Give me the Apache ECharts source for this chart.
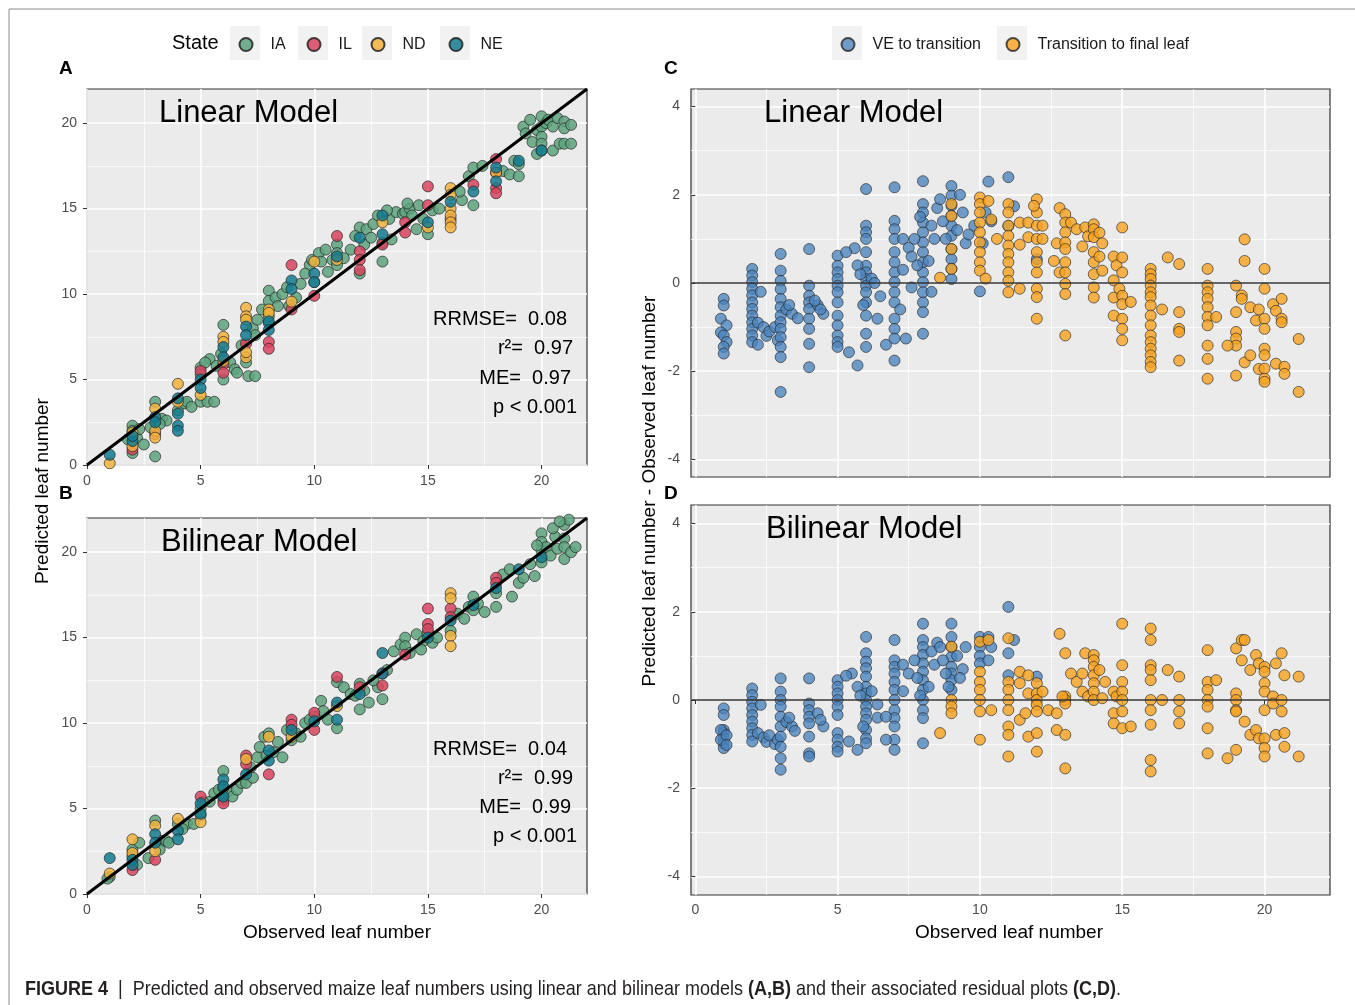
<!DOCTYPE html>
<html>
<head>
<meta charset="utf-8">
<script src="https://cdn.jsdelivr.net/npm/echarts@6/dist/echarts.min.js"></script>
<style>
    html, body { margin: 0; padding: 0; background: #fff; }
    #chart { width: 1355px; height: 1005px; }
</style>
</head>
<body>
<div id="chart"></div>
<script>
// tick labels
var fitTicks = [0, 5, 10, 15, 20];
var residXTicks = [0, 5, 10, 15, 20];
var residYTicks = [-4, -2, 0, 2, 4];

// reference lines
var identityLine = [[0, 0], [22, 22]];
var zeroLine = [[-0.15, 0], [22.3, 0]];

// A: linear model, predicted vs observed, by state
var linearIA = [[1.8, 1.5], [2, 2.3], [2, 2.0], [2, 0.7], [2.2, 1.6], [2.3, 2.1], [2.5, 1.2], [2.8, 2.2],
    [3, 3.7], [3, 0.5], [3.3, 2.7], [3.5, 2.6], [3.2, 2.4], [4, 3.2], [4.3, 3.6], [4.4, 3.7], [4.6, 3.4],
    [5, 5.7], [5, 5.3], [5, 3.7], [5.3, 3.7], [5.6, 3.7], [5.4, 6.2], [5.7, 5.8], [5.9, 6.5], [6, 8.2],
    [6, 5.0], [6.3, 6.0], [6.5, 5.6], [6.6, 5.4], [7.1, 5.2], [7.4, 5.2], [7, 6.0], [7.3, 8.0], [7.4, 7.6],
    [7.5, 8.5], [7.7, 9.1], [8, 8.3], [8, 10.2], [8, 9.6], [8, 8.7], [8.3, 9.8], [8.4, 9.3], [8.6, 10.0],
    [8.8, 10.4], [9.2, 9.8], [9.4, 10.6], [9.8, 11.7], [9.9, 12.0], [10, 10.7], [10.2, 12.4], [10.3, 11.9],
    [10.5, 12.6], [10.8, 12.0], [11, 12.9], [11, 12.4], [11, 11.7], [11.3, 12.1], [11.6, 12.6], [12, 13.9],
    [12, 11.2], [12.3, 13.8], [12.6, 14.1], [12.8, 14.6], [13, 11.9], [13, 13.0], [13.3, 14.4], [13.4, 13.2],
    [13.6, 14.8], [13.9, 14.7], [14, 14.8], [14.2, 15.0], [14.3, 14.6], [14.5, 13.8], [14.6, 15.2], [14.8, 14.4],
    [15, 13.5], [15.2, 14.9], [15.5, 15.0], [16.5, 15.5], [17, 15.2], [16.4, 16.0], [16.8, 16.9], [17, 17.4],
    [17.4, 17.5], [18.3, 17.2], [18.6, 17.0], [18.8, 17.8], [19, 17.6], [19, 16.9], [19.2, 19.8], [19.3, 19.4],
    [19.5, 20.2], [19.6, 18.9], [19.8, 19.6], [19.8, 18.2], [20, 20.4], [20, 19.8], [20, 19.2], [20, 18.8],
    [20, 18.4], [20.2, 20.0], [20.3, 20.2], [20.5, 19.8], [20.5, 18.4], [20.7, 20.3], [20.8, 18.8], [21, 20.1],
    [21, 19.7], [21, 18.8], [21.3, 19.9], [21.3, 18.8], [6.8, 7.0], [9.6, 11.2], [11.8, 13.4], [12.2, 12.9],
    [13.2, 14.9], [14.1, 15.3], [5.2, 6.0], [8.9, 9.3], [10.6, 11.3], [12.5, 13.3]];
var linearIL = [[2, 0.9], [3, 1.8], [5, 5.5], [6, 5.9], [6, 5.4], [7, 7.1], [8, 7.2], [8, 6.8], [9, 11.7],
    [9, 9.1], [10, 9.9], [11, 13.4], [12, 12.5], [12, 12.0], [12, 11.4], [13, 12.9], [14, 14.2], [14, 13.6],
    [15, 16.3], [15, 15.2], [16, 14.4], [17, 16.4], [18, 17.9], [18, 17.1], [18, 16.2], [18, 15.9]];
var linearND = [[1, 0.1], [2, 1.9], [2, 1.1], [3, 3.3], [3, 2.0], [3, 1.6], [4, 4.75], [4, 3.7], [5, 4.1],
    [6, 7.5], [6, 7.2], [6, 6.1], [7, 9.2], [7, 8.7], [7, 8.5], [7, 6.3], [7, 6.6], [8, 9.1], [8, 8.9],
    [9, 9.56], [10, 11.9], [11, 12.0], [13, 14.2], [15, 13.9], [16, 16.2], [16, 15.8], [16, 15.0], [16, 14.6],
    [16, 14.2], [16, 13.9], [18, 17.1]];
var linearNE = [[1, 0.6], [2, 1.4], [2, 1.7], [3, 2.8], [3, 2.5], [4, 3.9], [4, 3.0], [4, 2.3], [4, 2.0],
    [5, 5.0], [5, 4.5], [6, 6.9], [6, 6.3], [7, 8.1], [7, 7.6], [8, 8.4], [8, 7.9], [9, 10.8], [9, 10.3],
    [10, 11.2], [10, 10.7], [11, 12.2], [12, 13.3], [13, 14.6], [13, 13.5], [15, 14.2], [16, 15.4], [17, 16.0],
    [18, 17.4], [18, 16.6], [19, 17.8], [20, 18.4]];

// B: bilinear model, predicted vs observed, by state
var bilinearIA = [[1, 1.0], [0.9, 0.9], [2, 2.6], [2.3, 3.0], [2, 2.2], [2.2, 1.7], [2.7, 2.1], [3, 4.3],
    [3.3, 3.1], [3.5, 3.1], [3.6, 3.0], [3.2, 2.6], [4, 4.1], [4.4, 4.1], [4.7, 4.1], [4.2, 3.8], [5, 5.0],
    [5, 4.6], [5.4, 5.4], [5.6, 5.9], [5.8, 6.1], [6, 5.5], [6.2, 6.0], [6.4, 5.7], [6.6, 6.1], [6, 7.2],
    [6, 6.2], [6.8, 6.5], [7, 6.5], [7.2, 7.4], [7.3, 6.8], [7.5, 8.0], [7.6, 8.6], [7.8, 9.2], [8, 9.4],
    [8.2, 8.3], [8.4, 8.9], [8.6, 8.0], [8.8, 9.6], [9, 9.0], [9.2, 9.4], [9.4, 9.2], [9.6, 10.0], [10, 10.4],
    [10.3, 11.3], [10.4, 10.7], [10.6, 10.2], [11, 12.4], [11, 9.7], [11.3, 12.1], [11.6, 11.7], [12, 12.3],
    [12, 10.8], [11.8, 11.6], [12.4, 11.2], [12.8, 12.1], [13, 11.4], [13.5, 14.2], [13.8, 14.6], [14, 15.0],
    [14, 14.5], [14.2, 14.1], [14.5, 15.2], [14.8, 14.8], [14.7, 14.3], [15, 15.3], [15.2, 14.7], [15.4, 15.0],
    [16, 15.4], [16.3, 16.4], [16.6, 16.1], [16.8, 16.8], [17, 17.4], [17, 16.6], [17.2, 17.0], [17.5, 16.5],
    [18, 17.6], [18, 16.8], [18.3, 18.7], [18.6, 19.0], [18.7, 17.4], [19, 18.2], [19.2, 18.5], [19.5, 19.3],
    [19.7, 18.6], [20, 21.1], [20, 20.6], [20, 20.1], [20, 19.4], [20.2, 20.3], [20.4, 19.8], [20.6, 20.9],
    [20.7, 20.2], [21, 21.6], [21, 20.8], [21, 20.3], [21, 19.6], [21.2, 21.9], [21.3, 20.0], [20.5, 21.4],
    [19.8, 20.4], [20.8, 21.8], [21.5, 20.3], [12.2, 11.9], [12.6, 12.5], [13.2, 13.1], [9.8, 10.2],
    [7.9, 8.1], [5.1, 5.4]];
var bilinearIL = [[2, 1.4], [3, 2.0], [5, 5.7], [6, 5.3], [7, 8.1], [7, 7.6], [8, 7.0], [9, 10.2], [9, 9.9],
    [10, 10.6], [10, 9.6], [11, 12.7], [12, 12.1], [13, 12.9], [13, 12.2], [14, 14.0], [15, 16.7], [15, 15.8],
    [15, 15.5], [16, 16.7], [16, 16.2], [18, 18.5], [18, 18.2]];
var bilinearND = [[1, 1.2], [2, 3.2], [2, 2.4], [3, 4.0], [3, 2.5], [4, 4.4], [5, 4.2], [7, 7.9], [8, 9.2],
    [9, 9.2], [11, 11.0], [16, 17.6], [16, 17.3], [16, 15.1], [16, 14.5]];
var bilinearNE = [[1, 2.1], [2, 2.0], [2, 1.7], [3, 3.5], [3, 3.0], [4, 3.7], [4, 3.2], [5, 5.3], [5, 4.7],
    [6, 6.7], [6, 6.3], [6, 5.7], [7, 7.0], [8, 8.4], [8, 7.8], [9, 9.6], [10, 10.1], [11, 11.2], [11, 10.2],
    [12, 11.7], [13, 14.1], [13, 12.9], [15, 15.0], [16, 16.0], [17, 16.9], [18, 17.9], [19, 19.0], [20, 19.7]];

// C: linear model residuals, by phase
var linearVE = [[1, -0.36], [1, -0.51], [0.9, -0.81], [1.1, -0.96], [0.9, -1.12], [1, -1.19], [1.1, -1.34],
    [1, -1.45], [1, -1.6], [2, 0.32], [2, 0.17], [2, 0.02], [2, -0.13], [2, -0.28], [2, -0.44], [2, -0.59],
    [2, -0.74], [2, -0.89], [2, -1.04], [2, -1.19], [2, -1.34], [2.2, -0.9], [2.4, -1.0], [2.5, -1.2],
    [2.6, -1.1], [2.8, -1.0], [2.9, -1.3], [2.3, -0.2], [2.2, -1.4], [3, 0.66], [3, 0.28], [3, 0.05],
    [3, -0.14], [3, -0.36], [3, -0.55], [3, -0.74], [3, -0.89], [3, -1.04], [3, -1.23], [3, -1.45], [3, -1.68],
    [3, -2.47], [3.2, -0.6], [3.4, -0.7], [3.6, -0.8], [3.3, -0.5], [4, 0.77], [4, -0.06], [4, -0.29],
    [4, -0.44], [4, -0.59], [4, -0.81], [4, -1.04], [4, -1.38], [4, -1.91], [4.3, -0.5], [4.5, -0.7],
    [4.4, -0.6], [4.2, -0.4], [5, 0.62], [5, 0.39], [5, 0.24], [5, 0.09], [5, -0.06], [5, -0.21], [5, -0.44],
    [5, -0.74], [5, -0.96], [5, -1.19], [5, -1.34], [5, -1.45], [5.4, -1.57], [5.7, -1.87], [5.6, 0.79],
    [5.3, 0.7], [6, 2.13], [6, 1.3], [6, 1.15], [6, 1.0], [6, 0.7], [6, 0.39], [6, 0.24], [6, 0.09], [6, -0.06],
    [6, -0.21], [6, -0.44], [6, -0.74], [6, -1.15], [6, -1.45], [5.7, 0.4], [5.8, 0.2], [6.2, 0.1],
    [6.4, -0.81], [6.3, 0.0], [6.5, -0.3], [5.9, -0.5], [7, 2.17], [7, 1.41], [7, 1.22], [7, 1.0], [7, 0.7],
    [7, 0.47], [7, 0.24], [7, 0.02], [7, -0.21], [7, -0.44], [7, -0.81], [7, -1.04], [7, -1.26], [7, -1.76],
    [7.4, -1.26], [6.7, -1.4], [7.3, 1.0], [7.5, 0.8], [7.6, 0.6], [7.3, 0.3], [7.6, -0.1], [7.2, -0.6],
    [8, 2.31], [8, 1.79], [8, 1.6], [8, 1.37], [8, 1.15], [8, 0.92], [8, 0.7], [8, 0.47], [8, 0.24], [8, 0.02],
    [8, -0.21], [8, -0.44], [8, -0.66], [8, -1.15], [7.7, 1.0], [7.8, 0.4], [8.3, 1.3], [8.4, 1.0], [8.2, 0.5],
    [8.3, -0.2], [7.9, 1.5], [8.5, 1.7], [9, 2.2], [9, 1.98], [9, 1.75], [9, 1.52], [9, 1.3], [9, 1.07],
    [9, 0.77], [9, 0.54], [9, 0.32], [9, 0.09], [8.6, 1.9], [8.7, 1.4], [8.8, 1.0], [9.2, 1.2], [9.4, 1.6],
    [9.5, 0.9], [9.3, 2.0], [9.6, 1.1], [10, -0.19], [10.3, 2.3], [9.8, 1.3], [10.2, 1.6], [10.4, 1.4],
    [10.1, 0.9], [11, 2.4], [11.2, 1.74], [11, 1.29], [12, 0.54]];
var linearTF = [[9, 1.79], [9, 1.52], [9, 0.77], [9, 0.32], [8.6, 0.12], [10, 1.94], [10, 1.79], [10, 1.6],
    [10, 1.37], [10, 1.15], [10, 0.92], [10, 0.7], [10, 0.47], [10, 0.28], [10.3, 1.86], [10.4, 1.44],
    [10.6, 1.0], [10.2, 0.1], [11, 1.79], [11, 1.6], [11, 1.3], [11, 1.07], [11, 0.85], [11, 0.66], [11, 0.47],
    [11, 0.24], [11, 0.05], [11, -0.21], [11.4, 1.37], [11.4, 0.87], [11.4, -0.13], [11.7, 1.37], [11.7, 1.04],
    [12, 1.9], [12, 1.6], [12, 1.3], [12, 1.0], [12, 0.7], [12, 0.47], [12, 0.24], [12, -0.13], [12, -0.32],
    [12, -0.81], [12.2, 1.3], [12.2, 1.0], [11.9, 1.75], [12.6, 0.5], [12.8, 1.7], [12.7, 0.9], [12.8, 0.24],
    [13, 1.56], [13, 1.37], [13, 1.15], [13, 0.92], [13, 0.77], [13, 0.47], [13, 0.24], [13, -0.02],
    [13, -0.25], [13, -1.19], [13.2, 1.37], [13.4, 1.22], [13.7, 1.26], [13.6, 0.83], [13.8, 1.06], [14, 1.33],
    [14, 1.22], [14, 1.04], [14, 0.7], [14, 0.47], [14, 0.2], [14, -0.1], [14, -0.33], [14.2, 1.14], [14.3, 0.9],
    [14.2, 0.6], [14.3, 0.28], [14.7, 0.6], [14.7, 0.06], [14.7, -0.33], [14.7, -0.74], [14.8, 0.4],
    [14.9, -0.13], [15, 1.26], [15, 0.58], [15, 0.24], [15, -0.29], [15, -0.48], [15, -0.81], [15, -1.04],
    [15, -1.3], [15.3, -0.43], [16, 0.32], [16, 0.2], [16, 0.09], [16, -0.06], [16, -0.21], [16, -0.32],
    [16, -0.51], [16, -0.74], [16, -0.96], [16, -1.19], [16, -1.34], [16, -1.49], [16, -1.64], [16, -1.79],
    [16, -1.91], [16.4, -0.6], [17, 0.43], [17, -0.66], [17, -1.04], [17, -1.11], [17, -1.76], [16.6, 0.58],
    [18, 0.32], [18, -0.06], [18, -0.21], [18, -0.36], [18, -0.55], [18, -0.77], [18, -0.96], [18, -1.42],
    [18, -1.72], [18, -2.17], [18.3, -0.77], [19, -0.06], [19, -0.66], [19, -1.11], [19, -1.26], [19, -1.42],
    [19, -2.1], [18.7, -1.42], [19.2, -0.28], [19.2, -0.36], [19.3, 0.99], [19.3, 0.5], [19.3, -1.8],
    [19.5, -0.55], [19.5, -1.64], [19.8, -0.6], [19.7, -0.85], [19.8, -1.95], [20, 0.32], [20, -0.13],
    [20, -0.81], [20, -1.04], [20, -1.49], [20, -1.64], [20, -1.94], [20, -2.17], [20, -2.24], [20.3, -0.48],
    [20.4, -0.63], [20.6, -0.36], [20.6, -0.81], [20.6, -0.89], [20.4, -1.83], [20.7, -1.9], [20.7, -2.06],
    [21.2, -1.27], [21.2, -2.47]];

// D: bilinear model residuals, by phase
var bilinearVE = [[1, -0.19], [1, -0.34], [1, -0.68], [1, -0.75], [1, -0.87], [1, -0.98], [1, -1.09],
    [0.9, -0.68], [0.9, -0.9], [1.1, -0.8], [1.1, -1.02], [2, 0.26], [2, 0.11], [2, -0.04], [2, -0.19],
    [2, -0.34], [2, -0.49], [2, -0.64], [2, -0.79], [2, -0.94], [2.3, -0.11], [2.2, -0.75], [2.4, -0.85],
    [2.5, -0.95], [2.6, -0.8], [2.8, -1.0], [2.9, -0.9], [3, 0.49], [3, 0.19], [3, 0], [3, -0.15], [3, -0.38],
    [3, -0.6], [3, -0.83], [3, -1.06], [3, -1.32], [3, -1.58], [3.2, -0.5], [3.4, -0.6], [3.5, -0.7],
    [3.3, -0.4], [4, 0.49], [4, -0.08], [4, -0.23], [4, -0.38], [4, -0.53], [4, -0.83], [4, -1.21], [4, -1.28],
    [4.3, -0.3], [4.5, -0.6], [4.4, -0.45], [5, 0.45], [5, 0.3], [5, 0.15], [5, 0], [5, -0.15], [5, -0.34],
    [5, -0.75], [5, -0.9], [5, -1.06], [5, -1.17], [5.4, -0.94], [5.7, -1.13], [5.5, 0.6], [5.3, 0.55],
    [6, 1.43], [6, 1.06], [6, 0.87], [6, 0.72], [6, 0.53], [6, 0.3], [6, 0.15], [6, 0], [6, -0.15], [6, -0.3],
    [6, -0.45], [6, -0.68], [6, -0.87], [6, -0.98], [5.7, 0.3], [5.8, 0.1], [6.4, -0.1], [6.2, 0.2],
    [6.4, -0.4], [5.9, -0.6], [7, 1.36], [7, 0.9], [7, 0.75], [7, 0.6], [7, 0.41], [7, 0.23], [7, 0],
    [7, -0.23], [7, -0.41], [7, -0.6], [7, -0.9], [7, -1.13], [6.7, -0.38], [6.7, -0.9], [7.3, 0.8],
    [7.5, 0.6], [7.3, 0.2], [8, 1.73], [8, 1.36], [8, 1.2], [8, 1.02], [8, 0.83], [8, 0.64], [8, 0.45],
    [8, 0.23], [8, 0], [8, -0.23], [8, -0.41], [8, -0.98], [7.7, 0.9], [7.8, 0.5], [8.3, 1.1], [8.4, 0.8],
    [8.2, 0.3], [8.5, 1.3], [7.9, 0.1], [9, 1.73], [9, 1.43], [9, 1.2], [9, 0.98], [9, 0.75], [9, 0.6],
    [9, 0.45], [9, 0.23], [8.6, 1.2], [8.7, 0.9], [8.8, 0.6], [9.2, 1.0], [9.4, 0.7], [9.5, 1.2], [9.3, 0.5],
    [8.9, 0.3], [10, 1.43], [10, 1.2], [10, 1.0], [10, 0.83], [10.3, 1.43], [10.4, 1.2], [10.3, 0.9],
    [11, 2.11], [11.2, 1.36], [11, 1.06], [11, 0.56], [12, 0.53]];
var bilinearTF = [[9, 1.21], [9, 0], [9, -0.15], [9, -0.3], [8.6, -0.75], [10, 1.32], [10, 0.64], [10, 0.41],
    [10, 0.23], [10, 0], [10, -0.26], [10, -0.9], [10.3, 1.36], [10.4, -0.23], [11, 1.4], [11, 0.41],
    [11, 0.23], [11, 0], [11, -0.23], [11, -0.6], [11, -0.79], [11, -1.28], [11.4, 0.64], [11.4, 0.38],
    [11.4, -0.45], [11.7, 0.56], [11.7, -0.83], [11.7, 0.15], [11.6, -0.3], [12, 0.38], [12, 0.15], [12, 0],
    [12, -0.11], [12, -0.26], [12, -0.75], [12, -1.17], [12.2, 0.19], [12.4, -0.23], [12.8, 1.5], [12.7, -0.3],
    [12.7, -0.68], [13, 1.06], [13, 0.08], [13, 0], [13, -0.08], [13, -0.79], [13, -1.55], [12.9, 0.08],
    [13.2, 0.6], [13.4, 0.41], [13.6, 0.6], [13.7, 1.06], [13.6, 0.19], [13.8, 0.08], [14, 1.02], [14, 0.9],
    [14, 0.75], [14, 0.56], [14, 0.38], [14, 0.19], [14, 0], [14.2, 0.68], [14.3, 0.04], [14.4, 0.41],
    [14.7, 0.19], [14.7, -0.3], [14.7, -0.53], [14.8, 0.08], [15, 1.73], [15, 0.79], [15, 0.41], [15, 0.19],
    [15, 0], [15, -0.26], [15, -0.64], [15.3, -0.6], [16, 1.62], [16, 1.36], [16, 0.79], [16, 0.68],
    [16, 0.45], [16, 0], [16, -0.23], [16, -0.56], [16, -1.36], [16, -1.62], [16.4, 0], [17, 0.53], [17, 0],
    [17, -0.26], [17, -0.53], [16.6, 0.68], [18, 1.13], [18, 0.41], [18, 0.23], [18, 0], [18, -0.15],
    [18, -0.64], [18, -1.21], [18.3, 0.45], [19, 1.17], [19, 0.15], [19, 0], [19, -0.23], [19, -0.26],
    [19, -1.13], [19.2, 1.36], [19.2, 0.9], [19.3, 1.36], [19.3, -0.49], [18.7, -1.32], [19.5, 0.68],
    [19.7, 1.02], [19.8, 0.83], [19.5, -0.79], [19.7, -0.68], [19.8, -0.87], [20, 0.75], [20, 0.64],
    [20, 0.38], [20, 0.19], [20, -0.23], [20, -0.87], [20, -1.09], [20, -1.28], [20.3, 0.08], [20.3, -0.08],
    [20.6, 0], [20.6, 1.06], [20.4, 0.83], [20.7, 0.56], [20.6, -0.26], [20.4, -0.79], [20.7, -0.75],
    [20.7, -1.06], [21.2, 0.53], [21.2, -1.28]];

var fontMain = "'Liberation Sans', Arial, sans-serif";
var stateColors = { IA: '#5DA37E', IL: '#D8435E', ND: '#F1B13C', NE: '#137A91' };
var phaseColors = { ve: '#4A83BE', tf: '#F8A31E' };

// 数值坐标轴
function valueAxis(grid, min, max, ticks, opts) {
    return {
        type: 'value',
        gridIndex: grid,
        min: min,
        max: max,
        interval: opts.interval,
        axisLine: { show: false },
        axisTick: {
            show: opts.ticks !== false,
            customValues: ticks,
            length: 4,
            lineStyle: { color: '#333', width: 1 }
        },
        axisLabel: {
            show: opts.labels !== false,
            customValues: ticks,
            margin: opts.margin,
            fontSize: 14,
            color: '#4D4D4D',
            fontFamily: fontMain
        },
        splitLine: { show: true, lineStyle: { color: '#fff', width: 1.6 } },
        minorTick: { show: false, splitNumber: 2 },
        minorSplitLine: { show: true, lineStyle: { color: '#fff', width: 0.7 } }
    };
}

function scatter(name, data, color, idx, opacity) {
    return {
        type: 'scatter',
        name: name,
        xAxisIndex: idx,
        yAxisIndex: idx,
        data: data,
        symbolSize: 11,
        itemStyle: { color: color, opacity: opacity, borderColor: '#222', borderWidth: 0.8 },
        z: 2
    };
}

function refLine(data, idx, color, width) {
    return {
        type: 'line',
        xAxisIndex: idx,
        yAxisIndex: idx,
        data: data,
        symbol: 'none',
        silent: true,
        lineStyle: { color: color, width: width },
        z: 5
    };
}

function label(text, x, y, size, opts) {
    opts = opts || {};
    return {
        type: 'text',
        x: x,
        y: y,
        rotation: opts.rotation || 0,
        scaleX: opts.scaleX || 1,
        z: 10,
        style: {
            text: text,
            fontSize: size,
            fontFamily: opts.family || fontMain,
            fontWeight: opts.bold ? 'bold' : 'normal',
            fill: opts.color || '#000',
            textAlign: opts.align || 'left',
            textVerticalAlign: 'middle',
            rich: opts.rich
        }
    };
}

function keyBox(cx) {
    return { type: 'rect', shape: { x: cx - 15, y: 26, width: 30, height: 34 }, style: { fill: '#F2F2F2' }, z: 0 };
}

// one legend entry, circle centred on cx
function legendItem(name, cx) {
    return {
        data: [name],
        left: cx - 6.5,
        top: 36.5,
        padding: 0,
        itemWidth: 13,
        itemHeight: 13,
        icon: 'circle',
        textStyle: { fontSize: 16, color: '#1A1A1A', fontFamily: fontMain, padding: [0, 0, 0, 13] }
    };
}

function showChart() {
    var chart = echarts.init(document.getElementById('chart'));
    var gridBase = { show: true, backgroundColor: '#EBEBEB', borderColor: '#333', borderWidth: 1.2, containLabel: false };
    var capFont = "'Liberation Sans', Arial, sans-serif";

    var graphics = [
        { type: 'polyline', shape: { points: [[9, 1010], [9, 9], [1360, 9]] }, style: { stroke: '#8C8C8C', lineWidth: 1, fill: null }, z: 0 },
        keyBox(245), keyBox(313), keyBox(377), keyBox(455), keyBox(847), keyBox(1012),
        label('State', 172, 43, 20),
        label('A', 59, 69, 19, { bold: true }),
        label('B', 59, 494, 19, { bold: true }),
        label('C', 664, 69, 19, { bold: true }),
        label('D', 664, 494, 19, { bold: true }),
        label('Linear Model', 159, 113, 31),
        label('Bilinear Model', 161, 542, 31),
        label('Linear Model', 764, 113, 31),
        label('Bilinear Model', 766, 529, 31),
        label('RRMSE=  0.08', 567, 319, 20, { align: 'right' }),
        label('r\u00b2=  0.97', 573, 348, 20, { align: 'right' }),
        label('ME=  0.97', 571, 378, 20, { align: 'right' }),
        label('p < 0.001', 577, 407, 20, { align: 'right' }),
        label('RRMSE=  0.04', 567, 749, 20, { align: 'right' }),
        label('r\u00b2=  0.99', 573, 778, 20, { align: 'right' }),
        label('ME=  0.99', 571, 807, 20, { align: 'right' }),
        label('p < 0.001', 577, 836, 20, { align: 'right' }),
        label('Predicted leaf number', 43, 491, 19, { align: 'center', rotation: Math.PI / 2 }),
        label('Predicted leaf number - Observed leaf number', 650, 491, 19, { align: 'center', rotation: Math.PI / 2 }),
        label('Observed leaf number', 337, 933, 19, { align: 'center' }),
        label('Observed leaf number', 1009, 933, 19, { align: 'center' }),
        label('{b|FIGURE 4}{n|  |  Predicted and observed maize leaf numbers using linear and bilinear models }{b|(A,B)}{n| and their associated residual plots }{b|(C,D)}{n|.}',
            25, 989, 21, {
                family: capFont,
                color: '#231F20',
                scaleX: 0.857,
                rich: {
                    b: { fontWeight: 'bold', fontSize: 21, fontFamily: capFont, fill: '#231F20' },
                    n: { fontSize: 21, fontFamily: capFont, fill: '#231F20' }
                }
            })
    ];

    chart.setOption({
        animation: false,
        backgroundColor: '#fff',
        grid: [
            Object.assign({ left: 87, top: 89, width: 500, height: 376 }, gridBase),
            Object.assign({ left: 87, top: 518, width: 500, height: 376 }, gridBase),
            Object.assign({ left: 691, top: 89, width: 639, height: 388 }, gridBase),
            Object.assign({ left: 691, top: 505, width: 639, height: 390 }, gridBase)
        ],
        xAxis: [
            valueAxis(0, 0, 22, fitTicks, { interval: 5, margin: 9 }),
            valueAxis(1, 0, 22, fitTicks, { interval: 5, margin: 9 }),
            valueAxis(2, -0.15, 22.3, residXTicks, { ticks: false, labels: false }),
            valueAxis(3, -0.15, 22.3, residXTicks, { margin: 8 })
        ],
        yAxis: [
            valueAxis(0, 0, 22, fitTicks, { interval: 5, margin: 10 }),
            valueAxis(1, 0, 22, fitTicks, { interval: 5, margin: 10 }),
            valueAxis(2, -4.4, 4.4, residYTicks, { margin: 11 }),
            valueAxis(3, -4.42, 4.42, residYTicks, { margin: 11 })
        ],
        legend: [
            legendItem('IA', 245),
            legendItem('IL', 313),
            legendItem('ND', 377),
            legendItem('NE', 455),
            legendItem('VE to transition', 847),
            legendItem('Transition to final leaf', 1012)
        ],
        graphic: graphics,
        series: [
            scatter('IA', linearIA, stateColors.IA, 0, 0.85),
            scatter('IL', linearIL, stateColors.IL, 0, 0.85),
            scatter('ND', linearND, stateColors.ND, 0, 0.85),
            scatter('NE', linearNE, stateColors.NE, 0, 0.85),
            refLine(identityLine, 0, '#000', 3),
            scatter('IA', bilinearIA, stateColors.IA, 1, 0.85),
            scatter('IL', bilinearIL, stateColors.IL, 1, 0.85),
            scatter('ND', bilinearND, stateColors.ND, 1, 0.85),
            scatter('NE', bilinearNE, stateColors.NE, 1, 0.85),
            refLine(identityLine, 1, '#000', 3),
            scatter('VE to transition', linearVE, phaseColors.ve, 2, 0.78),
            scatter('Transition to final leaf', linearTF, phaseColors.tf, 2, 0.8),
            refLine(zeroLine, 2, '#333', 1.5),
            scatter('VE to transition', bilinearVE, phaseColors.ve, 3, 0.78),
            scatter('Transition to final leaf', bilinearTF, phaseColors.tf, 3, 0.8),
            refLine(zeroLine, 3, '#333', 1.5)
        ]
    });
}

showChart();
</script>
</body>
</html>
